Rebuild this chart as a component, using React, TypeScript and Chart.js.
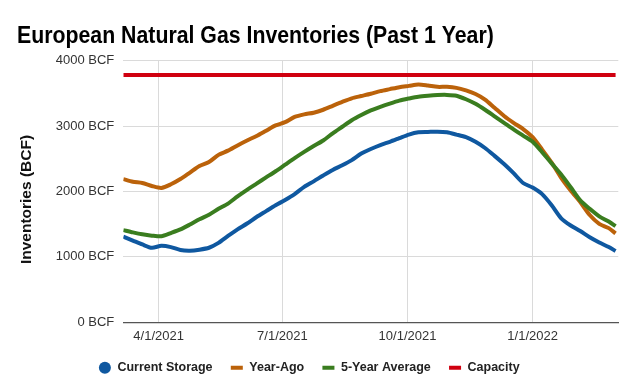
import React, { useEffect, useRef } from "react";
import { Chart, registerables } from "chart.js";

Chart.register(...registerables);

const chartTitle = "European Natural Gas Inventories (Past 1 Year)";
const yAxisTitle = "Inventories (BCF)";

const dates = [
  "2021-03-06", "2021-03-13", "2021-03-20", "2021-03-27", "2021-04-03", "2021-04-10",
  "2021-04-17", "2021-04-24", "2021-05-01", "2021-05-08", "2021-05-15", "2021-05-22",
  "2021-05-29", "2021-06-05", "2021-06-12", "2021-06-19", "2021-06-26", "2021-07-03",
  "2021-07-10", "2021-07-17", "2021-07-24", "2021-07-31", "2021-08-07", "2021-08-14",
  "2021-08-21", "2021-08-28", "2021-09-04", "2021-09-11", "2021-09-18", "2021-09-25",
  "2021-10-02", "2021-10-09", "2021-10-16", "2021-10-23", "2021-10-30", "2021-11-06",
  "2021-11-13", "2021-11-20", "2021-11-27", "2021-12-04", "2021-12-11", "2021-12-18",
  "2021-12-25", "2022-01-01", "2022-01-08", "2022-01-15", "2022-01-22", "2022-01-29",
  "2022-02-05", "2022-02-12", "2022-02-19", "2022-02-26", "2022-03-03",
];

const currentStorage = [
  1310, 1250, 1190, 1140, 1170, 1150, 1105, 1095, 1110, 1140, 1215, 1320,
  1420, 1510, 1610, 1700, 1790, 1870, 1960, 2070, 2155, 2245, 2330, 2400,
  2480, 2580, 2650, 2710, 2760, 2815, 2870, 2905, 2910, 2915, 2905, 2870,
  2830, 2760, 2665, 2545, 2420, 2280, 2130, 2060, 1960, 1790, 1590, 1480,
  1395, 1300, 1220, 1150, 1090,
];

const yearAgo = [
  2190, 2150, 2130, 2085, 2055, 2110, 2190, 2290, 2390, 2450, 2560, 2625,
  2705, 2780, 2850, 2930, 3010, 3060, 3140, 3180, 3205, 3250, 3310, 3370,
  3425, 3460, 3495, 3535, 3565, 3595, 3615, 3635, 3620, 3600, 3600, 3585,
  3545, 3490, 3405, 3280, 3155, 3050, 2955, 2830, 2640, 2440, 2210, 2015,
  1840, 1640, 1505, 1440, 1360,
];

const fiveYearAverage = [
  1410, 1375, 1345, 1325, 1315, 1365, 1420, 1495, 1575, 1645, 1735, 1815,
  1925, 2025, 2120, 2215, 2310, 2410, 2510, 2605, 2695, 2780, 2890, 2990,
  3090, 3170, 3240, 3295, 3345, 3390, 3422, 3450, 3465, 3475, 3477, 3465,
  3410, 3340, 3250, 3150, 3050, 2950, 2855, 2760, 2600, 2430, 2260, 2065,
  1865, 1735, 1620, 1540, 1470,
];

const capacityDates = ["2021-03-06", "2022-03-03"];
const capacity = [3780, 3780];

const xTickDates = ["2021-04-01", "2021-07-01", "2021-10-01", "2022-01-01"];
const xTickLabels = ["4/1/2021", "7/1/2021", "10/1/2021", "1/1/2022"];
const xRange = ["2021-03-06", "2022-03-05"];
const yTicks = [0, 1000, 2000, 3000, 4000];

const FONT = "'Liberation Sans', Arial, sans-serif";

const dayNum = (s: string) => {
  const [y, m, d] = s.split("-").map(Number);
  return Date.UTC(y, m - 1, d) / 86400000;
};

const toPoints = (ds: string[], vs: number[]) =>
  ds.map((d, i) => ({ x: dayNum(d), y: vs[i] }));

const textPlugin = {
  id: "customText",
  afterDraw(chart: any) {
    const ctx = chart.ctx;
    const area = chart.chartArea;
    ctx.save();
    ctx.fillStyle = "#000";
    ctx.font = `bold 24px ${FONT}`;
    ctx.textAlign = "left";
    ctx.textBaseline = "alphabetic";
    ctx.translate(17, 43);
    ctx.scale(0.887, 1);
    ctx.fillText(chartTitle, 0, 0);
    ctx.restore();

    ctx.save();
    ctx.fillStyle = "#111";
    ctx.font = `bold 15.5px ${FONT}`;
    ctx.textAlign = "center";
    ctx.textBaseline = "middle";
    ctx.translate(27, (area.top + area.bottom) / 2 + 8);
    ctx.rotate(-Math.PI / 2);
    ctx.fillText(yAxisTitle, 0, 0);
    ctx.restore();
  },
};

export default function App() {
  const canvasRef = useRef<HTMLCanvasElement | null>(null);

  useEffect(() => {
    document.body.style.margin = "0";
    const canvas = canvasRef.current;
    if (!canvas) return;

    const chart = new Chart(canvas, {
      type: "line",
      data: {
        datasets: [
          {
            label: "Current Storage",
            data: toPoints(dates, currentStorage),
            borderColor: "#0f58a0",
            backgroundColor: "#0f58a0",
            borderWidth: 4,
            pointRadius: 0,
            tension: 0.25,
            order: 3,
          },
          {
            label: "Year-Ago",
            data: toPoints(dates, yearAgo),
            borderColor: "#bb620a",
            backgroundColor: "#bb620a",
            borderWidth: 4,
            pointRadius: 0,
            tension: 0.25,
            order: 2,
          },
          {
            label: "5-Year Average",
            data: toPoints(dates, fiveYearAverage),
            borderColor: "#3a7d1f",
            backgroundColor: "#3a7d1f",
            borderWidth: 4,
            pointRadius: 0,
            tension: 0.25,
            order: 1,
          },
          {
            label: "Capacity",
            data: toPoints(capacityDates, capacity),
            borderColor: "#d00010",
            backgroundColor: "#d00010",
            borderWidth: 4,
            pointRadius: 0,
            order: 0,
          },
        ],
      },
      options: {
        responsive: false,
        animation: false,
        devicePixelRatio: 1,
        layout: { padding: { top: 60.7, left: 0, right: 21.7, bottom: 0 } },
        font: { family: FONT },
        scales: {
          x: {
            type: "linear",
            min: dayNum(xRange[0]),
            max: dayNum(xRange[1]),
            afterBuildTicks: (scale: any) => {
              scale.ticks = xTickDates.map((d) => ({ value: dayNum(d) }));
            },
            afterFit: (scale: any) => {
              scale.height = 21.2;
            },
            ticks: {
              autoSkip: false,
              maxRotation: 0,
              padding: 6,
              color: "#333",
              font: { family: FONT, size: 13 },
              callback: (_v: any, i: number) => xTickLabels[i],
            },
            grid: { color: "#dadada", lineWidth: 1, drawTicks: false },
            border: { display: true, color: "#555", width: 1.2 },
          },
          y: {
            min: 0,
            max: 4000,
            afterBuildTicks: (scale: any) => {
              scale.ticks = yTicks.map((v) => ({ value: v }));
            },
            afterFit: (scale: any) => {
              scale.width = 123.3;
            },
            ticks: {
              padding: 9,
              color: "#333",
              font: { family: FONT, size: 13 },
              callback: (v: any) => `${v} BCF`,
            },
            grid: { color: "#dadada", lineWidth: 1, drawTicks: false },
            border: { display: false },
          },
        },
        plugins: {
          title: { display: false },
          tooltip: { enabled: false },
          legend: {
            display: true,
            position: "bottom",
            align: "center",
            labels: {
              usePointStyle: true,
              boxWidth: 16,
              boxHeight: 8.5,
              padding: 18,
              color: "#222",
              font: { family: FONT, size: 12.5, weight: "bold" },
              generateLabels: (c: any) =>
                c.data.datasets.map((ds: any, i: number) => ({
                  text: ds.label,
                  fillStyle: ds.borderColor,
                  strokeStyle: ds.borderColor,
                  lineWidth: i === 0 ? 0 : 4,
                  pointStyle: i === 0 ? "circle" : "line",
                  hidden: false,
                  datasetIndex: i,
                  fontColor: "#222",
                })),
            },
          },
        },
      },
      plugins: [textPlugin],
    });

    return () => {
      chart.destroy();
    };
  }, []);

  return (
    <div style={{ width: 640, height: 384, background: "#fff" }}>
      <canvas ref={canvasRef} width={640} height={384} style={{ display: "block" }} />
    </div>
  );
}
